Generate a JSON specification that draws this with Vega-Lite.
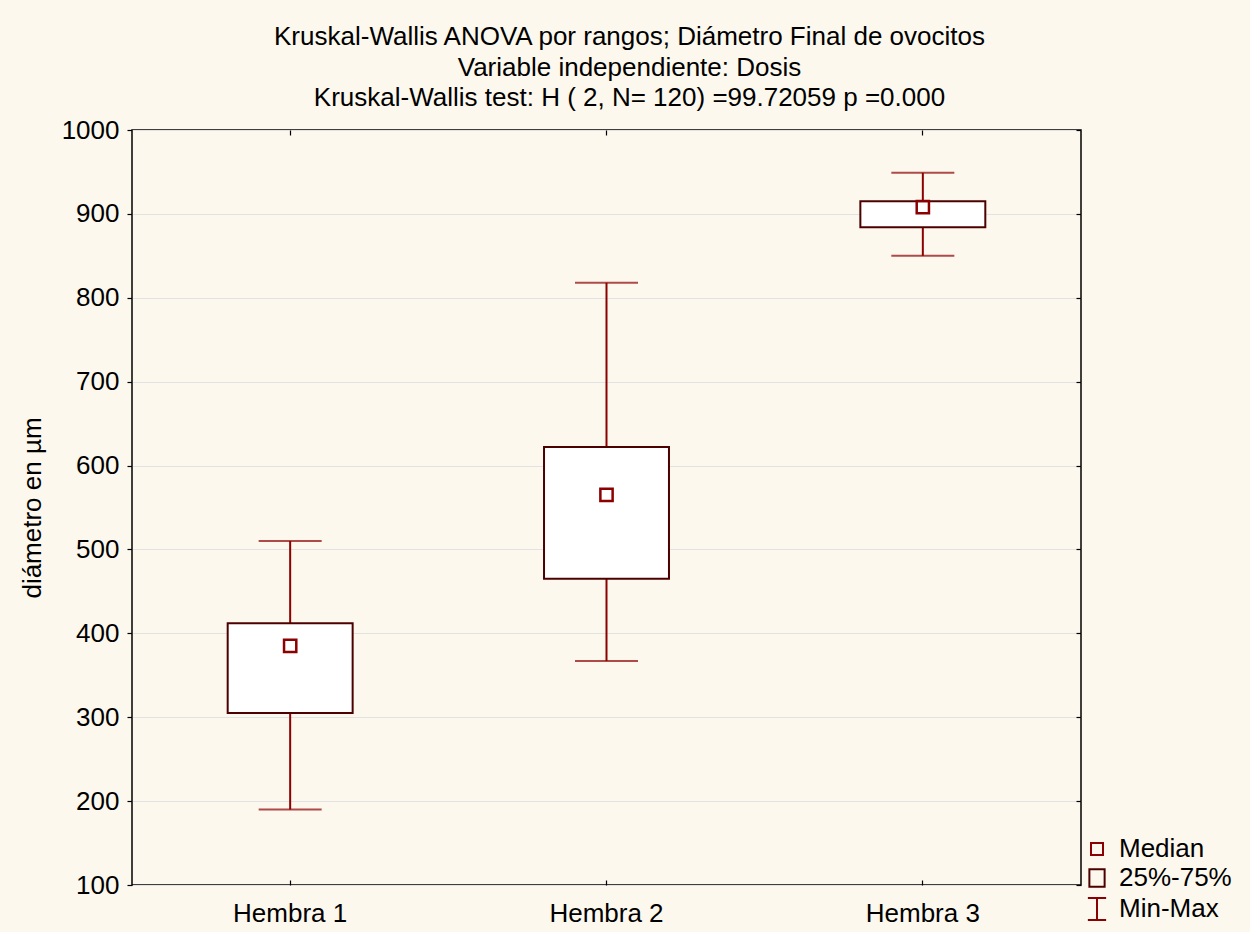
{
  "$schema": "https://vega.github.io/schema/vega-lite/v6.json",
  "width": 949,
  "height": 755,
  "autosize": {"type": "none"},
  "padding": {"left": 132, "top": 130, "right": 169, "bottom": 47},
  "background": "#FDF8EE",
  "title": {
    "text": ["Kruskal-Wallis ANOVA por rangos; Diámetro Final de ovocitos", "Variable independiente: Dosis", "Kruskal-Wallis test: H ( 2, N= 120) =99.72059 p =0.000"],
    "font": "Liberation Sans",
    "fontSize": 26,
    "fontWeight": "normal",
    "color": "#000000",
    "lineHeight": 30.5,
    "anchor": "middle",
    "frame": "group",
    "dx": 23,
    "offset": 6
  },
  "config": {
    "view": {"fill": "#FFFFFF", "stroke": "#000000", "strokeWidth": 1.5},
    "axis": {
      "labelFont": "Liberation Sans",
      "labelFontSize": 26,
      "labelColor": "#000000",
      "titleFont": "Liberation Sans",
      "titleFontSize": 26,
      "titleFontWeight": "normal",
      "titleColor": "#000000",
      "domain": false,
      "tickColor": "#000000",
      "tickWidth": 1.2
    },
    "legend": {
      "labelFont": "Liberation Sans",
      "labelFontSize": 26,
      "labelColor": "#000000"
    }
  },
  "data": {
    "values": [
      {"group": "Hembra 1", "min": 190, "q1": 305, "median": 385, "q3": 412, "max": 510},
      {"group": "Hembra 2", "min": 367, "q1": 465, "median": 565, "q3": 622, "max": 818},
      {"group": "Hembra 3", "min": 850, "q1": 884, "median": 908, "q3": 915, "max": 949}
    ]
  },
  "resolve": {"axis": {"x": "independent", "y": "independent"}},
  "layer": [
    {
      "mark": {"type": "rule", "color": "#8B0000", "strokeWidth": 2},
      "encoding": {
        "x": {
          "field": "group", "type": "nominal",
          "scale": {"paddingInner": 0, "paddingOuter": 0},
          "axis": {"title": null, "labelAngle": 0, "tickSize": -5, "labelPadding": 20, "grid": false}
        },
        "y": {
          "field": "min", "type": "quantitative",
          "scale": {"domain": [100, 1000], "nice": false, "zero": false},
          "axis": {
            "title": "diámetro en µm",
            "format": "d",
            "values": [100, 200, 300, 400, 500, 600, 700, 800, 900, 1000],
            "grid": true, "gridColor": "#E2E2E2", "gridWidth": 1,
            "tickSize": 5, "labelPadding": 8, "titlePadding": 16
          }
        },
        "y2": {"field": "max"}
      }
    },
    {
      "mark": {"type": "bar", "fill": "#FFFFFF", "stroke": "#4D0000", "strokeWidth": 2, "width": {"band": 0.395}},
      "encoding": {
        "x": {
          "field": "group", "type": "nominal",
          "axis": {"orient": "top", "title": null, "labels": false, "tickSize": -5, "grid": false}
        },
        "y": {
          "field": "q1", "type": "quantitative",
          "axis": {"orient": "right", "title": null, "labels": false, "tickSize": -5, "grid": false,
                   "values": [100, 200, 300, 400, 500, 600, 700, 800, 900, 1000]}
        },
        "y2": {"field": "q3"}
      }
    },
    {
      "mark": {"type": "tick", "color": "#8B0000", "size": 63, "thickness": 2},
      "encoding": {
        "x": {"field": "group", "type": "nominal", "axis": null},
        "y": {"field": "min", "type": "quantitative", "axis": null}
      }
    },
    {
      "mark": {"type": "tick", "color": "#8B0000", "size": 63, "thickness": 2},
      "encoding": {
        "x": {"field": "group", "type": "nominal", "axis": null},
        "y": {"field": "max", "type": "quantitative", "axis": null}
      }
    },
    {
      "mark": {"type": "point", "shape": "square", "size": 150, "filled": false, "stroke": "#8B0000", "strokeWidth": 2.5, "opacity": 1},
      "encoding": {
        "x": {"field": "group", "type": "nominal", "axis": null},
        "y": {"field": "median", "type": "quantitative", "axis": null}
      }
    },
    {
      "data": {"values": [{"item": "Median"}, {"item": "25%-75%"}, {"item": "Min-Max"}]},
      "mark": {"type": "point", "filled": false, "opacity": 0, "strokeWidth": 2},
      "encoding": {
        "shape": {
          "field": "item", "type": "nominal",
          "scale": {"domain": ["Median", "25%-75%", "Min-Max"],
                    "range": ["square", "M-0.86,-1H0.86V1H-0.86Z", "M-0.83,-1H0.83M0,-1V1M-0.83,1H0.83"]},
          "legend": {
            "title": null, "orient": "none", "legendX": 952, "legendY": 706,
            "symbolOpacity": 1, "symbolFillColor": "transparent", "symbolStrokeWidth": 2,
            "labelOffset": 9, "rowPadding": 3, "padding": 0, "labelBaseline": "middle"
          }
        },
        "size": {
          "field": "item", "type": "nominal",
          "scale": {"domain": ["Median", "25%-75%", "Min-Max"], "range": [144, 484, 576]}
        },
        "stroke": {
          "field": "item", "type": "nominal",
          "scale": {"domain": ["Median", "25%-75%", "Min-Max"], "range": ["#8B0000", "#4D0000", "#8B0000"]}
        }
      }
    }
  ]
}
